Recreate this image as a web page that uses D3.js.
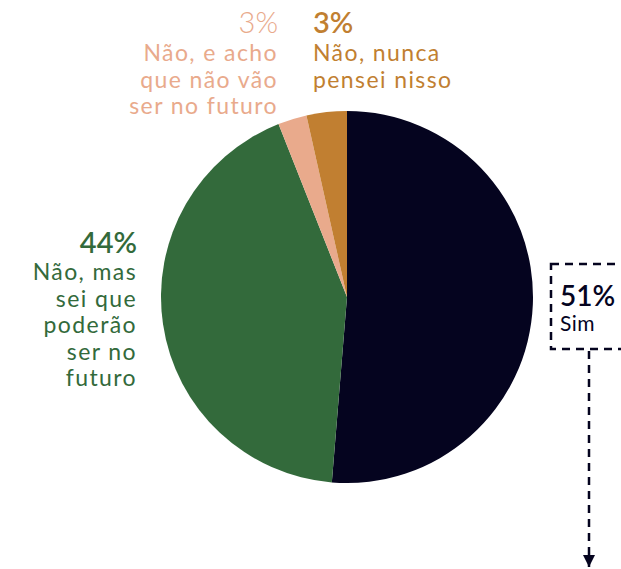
<html lang="pt">
  <head>
    <meta charset="UTF-8" />
    <title>Pie chart</title>
    <script src="https://d3js.org/d3.v7.min.js"></script>
  </head>
  <style>
    body {
      margin: 0px;
      overflow: hidden;
      background: #fff;
    }
    text {
      font-family: Lato, "Open Sans", sans-serif;
    }
  </style>
  <body>
    <svg width="621" height="569"></svg>
  </body>
  <footer>
    <script>
      var categories = [
        "Sim",
        "Não, mas sei que poderão ser no futuro",
        "Não, e acho que não vão ser no futuro",
        "Não, nunca pensei nisso"
      ];
      // slice sizes; the labels show the published rounded shares
      var values = [51.3, 42.7, 2.5, 3.5];
      var pctLabels = ["51%", "44%", "3%", "3%"];
      var colors = ["#05041f", "#336a3b", "#e9aa8c", "#c17f31"];
      var labelLines = [
        ["Sim"],
        ["Não, mas", "sei que", "poderão", "ser no", "futuro"],
        ["Não, e acho", "que não vão", "ser no futuro"],
        ["Não, nunca", "pensei nisso"]
      ];

      var svg = d3.select("svg");
      var cx = 347, cy = 297, radius = 186;

      var pie = d3.pie().sort(null).value(function (d) { return d; });
      var arc = d3.arc().innerRadius(0).outerRadius(radius);

      var g = svg.append("g").attr("transform", `translate(${cx}, ${cy})`);
      g.selectAll("path")
        .data(pie(values))
        .enter()
        .append("path")
        .attr("d", arc)
        .attr("fill", function (d, i) { return colors[i]; });

      var labelPos = [
        { x: 560, y: 306, anchor: "start", pct: 28, size: 21, weight: 600, first: 25, color: "#05041f" },
        { x: 137, y: 253, anchor: "end", pct: 29, size: 23, weight: 600, first: 27, color: colors[1] },
        { x: 278, y: 33, anchor: "end", pct: 29, size: 23, weight: 300, first: 28, color: colors[2] },
        { x: 313, y: 33, anchor: "start", pct: 29, size: 23, weight: 600, first: 28, color: colors[3] }
      ];

      labelPos.forEach(function (p, i) {
        var t = svg.append("text")
          .attr("x", p.x)
          .attr("y", p.y)
          .attr("text-anchor", p.anchor)
          .attr("fill", p.color);
        t.append("tspan")
          .attr("x", p.x)
          .attr("font-size", p.pct)
          .attr("font-weight", p.weight)
          .text(pctLabels[i]);
        labelLines[i].forEach(function (line, j) {
          t.append("tspan")
            .attr("x", p.x)
            .attr("dy", j === 0 ? p.first : 26.5)
            .attr("font-size", p.size)
            .attr("letter-spacing", i === 0 ? 0.5 : 1.4)
            .text(line);
        });
      });

      svg.append("defs").append("marker")
        .attr("id", "arrow")
        .attr("viewBox", "0 0 10 10")
        .attr("refX", 10).attr("refY", 5)
        .attr("markerWidth", 5).attr("markerHeight", 5)
        .attr("markerUnits", "strokeWidth")
        .attr("orient", "auto")
        .append("path")
        .attr("d", "M0,0L10,5L0,10Z")
        .attr("fill", "#05041f");

      // dashed callout box and arrow for "Sim"
      svg.append("rect")
        .attr("x", 551).attr("y", 264)
        .attr("width", 100).attr("height", 85)
        .attr("fill", "none")
        .attr("stroke", "#05041f")
        .attr("stroke-width", 2.5)
        .attr("stroke-dasharray", "8,6");

      svg.append("line")
        .attr("x1", 589).attr("y1", 351)
        .attr("x2", 589).attr("y2", 567)
        .attr("stroke", "#05041f")
        .attr("stroke-width", 2.5)
        .attr("stroke-dasharray", "8,6")
        .attr("marker-end", "url(#arrow)");
    </script>
  </footer>
</html>
